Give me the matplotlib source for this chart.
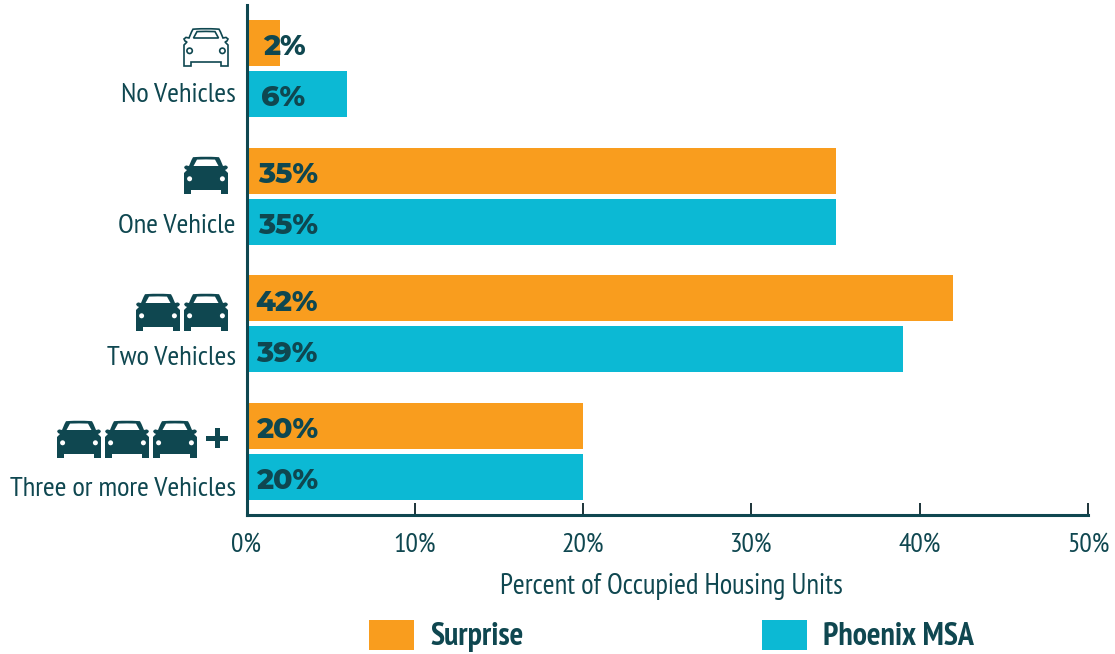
import matplotlib
matplotlib.use('Agg')
import matplotlib.pyplot as plt
from matplotlib.patches import PathPatch, Rectangle, Circle
from matplotlib.path import Path
from matplotlib.transforms import Affine2D
import numpy as np

# data
categories = ['No Vehicles', 'One Vehicle', 'Two Vehicles', 'Three or more Vehicles']
surprise = [2, 35, 42, 20]
phoenix = [6, 35, 39, 20]
xticks = [0, 10, 20, 30, 40, 50]

ORANGE = '#F99D1E'
TEAL = '#0CB9D4'
DARK = '#0F4750'
W, H = 1115, 654
NARROW = ['PT Sans Narrow', 'Liberation Sans', 'DejaVu Sans']
HEAVY = ['Montserrat Alternates', 'Lato', 'DejaVu Sans']

plt.rcParams['font.family'] = NARROW

fig = plt.figure(figsize=(W / 100, H / 100), dpi=100)
ax = fig.add_axes([246.5 / W, 1 - 515 / H, (1088 - 246.5) / W, (515 - 4.7) / H])
# figure pixels, y going down, for the icons and the legend
px = Affine2D().scale(1 / W, -1 / H).translate(0, 1) + fig.transFigure

y = np.arange(len(categories))
ax.barh(y - 0.2, surprise, height=0.36, color=ORANGE)
ax.barh(y + 0.2, phoenix, height=0.36, color=TEAL)
ax.set_xlim(0, 50)
ax.set_ylim(3.5, -0.5)

for spine in ['top', 'right']:
    ax.spines[spine].set_visible(False)
for spine in ['left', 'bottom']:
    ax.spines[spine].set_color(DARK)
    ax.spines[spine].set_linewidth(2.2)

ax.set_yticks([])
ax.set_xticks(xticks)
ax.set_xticklabels([f'{t}%' for t in xticks], fontsize=20, color=DARK)
ax.tick_params(axis='x', direction='in', length=9, width=1.4, color='#1c3338', pad=13)
fig.text(671 / W, 1 - 586 / H, 'Percent of Occupied Housing Units', fontsize=20.6,
         color=DARK, ha='center', va='center')

# value labels, right edge depends on the number of digits
for i in range(len(categories)):
    for val, off in [(surprise[i], -0.2), (phoenix[i], 0.2)]:
        ax.text(3.5 if val < 10 else 4.25, i + off + 0.035, f'{val}%', family=HEAVY, weight=800,
                fontsize=20.5, color=DARK, ha='right', va='center')

# category labels sit a bit lower each row
label_y = [95, 226, 358, 489]
for name, ly in zip(categories, label_y):
    fig.text(236 / W, 1 - ly / H, name, fontsize=20.5, color=DARK, ha='right', va='center')


def car(x0, y0, filled=True):
    """car icon, 44 x 37 px, top left at x0, y0"""
    to = Affine2D().translate(x0, y0) + px
    verts = [(12, 0), (22, -0.6), (32, 0), (35, 0.2), (36.5, 3), (39, 9), (42, 8.4), (44, 10),
             (43, 12), (41, 13), (44, 16), (44, 33), (44, 37), (37, 37), (37, 33), (7, 33),
             (7, 37), (0, 37), (0, 33), (0, 16), (3, 13), (1, 12), (0, 10), (2, 8.4), (5, 9),
             (7.5, 3), (9, 0.2), (12, 0)]
    codes = [Path.MOVETO, Path.CURVE3, Path.CURVE3, Path.LINETO, Path.LINETO, Path.LINETO,
             Path.LINETO, Path.LINETO, Path.LINETO, Path.LINETO, Path.LINETO, Path.LINETO,
             Path.LINETO, Path.LINETO, Path.LINETO, Path.LINETO, Path.LINETO, Path.LINETO,
             Path.LINETO, Path.LINETO, Path.LINETO, Path.LINETO, Path.LINETO, Path.LINETO,
             Path.LINETO, Path.LINETO, Path.LINETO, Path.CLOSEPOLY]
    window = Path([(13, 2.6), (22, 2.2), (31, 2.6), (34.5, 9), (9.5, 9), (13, 2.6)],
                  [Path.MOVETO, Path.CURVE3, Path.CURVE3, Path.LINETO, Path.LINETO, Path.CLOSEPOLY])
    body = Path(verts, codes)
    if filled:
        fig.add_artist(PathPatch(body, fc=DARK, ec='none', transform=to))
        fig.add_artist(PathPatch(window, fc='white', ec='none', transform=to))
        for cx in [5.6, 38.4]:
            fig.add_artist(Circle((cx, 21.8), 2.5, fc='white', ec='none', transform=to))
    else:
        fig.add_artist(PathPatch(body, fc='white', ec=DARK, lw=1.2, transform=to))
        fig.add_artist(PathPatch(window, fc='white', ec=DARK, lw=1.2, transform=to))
        for cx in [5.6, 38.4]:
            fig.add_artist(Circle((cx, 21.8), 2.7, fc='white', ec=DARK, lw=1.2, transform=to))


car(184, 29, filled=False)
car(184, 157)
for cx in [136, 184]:
    car(cx, 294)
for cx in [57, 105, 153]:
    car(cx, 421)
# plus sign after the three cars
fig.add_artist(Rectangle((206, 435.5), 22, 5, fc=DARK, ec='none', transform=px))
fig.add_artist(Rectangle((214.5, 428), 5, 20, fc=DARK, ec='none', transform=px))

# legend
fig.add_artist(Rectangle((369, 620), 44.5, 30, fc=ORANGE, ec='none', transform=px))
fig.add_artist(Rectangle((762, 620), 45, 30, fc=TEAL, ec='none', transform=px))
fig.text(430 / W, 1 - 637 / H, 'Surprise', fontsize=23, weight='bold', color=DARK, va='center')
fig.text(823 / W, 1 - 637 / H, 'Phoenix MSA', fontsize=23, weight='bold', color=DARK, va='center')

fig.savefig('out.png', dpi=100)
